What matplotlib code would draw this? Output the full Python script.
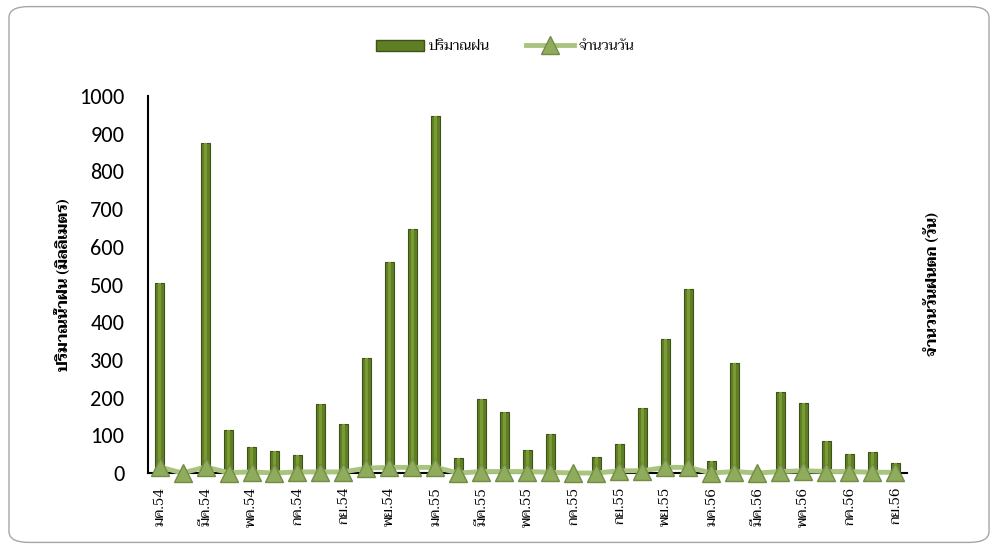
import matplotlib
matplotlib.use('Agg')
import matplotlib.pyplot as plt
from matplotlib import font_manager
from matplotlib.patches import FancyBboxPatch
from matplotlib.lines import Line2D
from matplotlib.patches import Patch
import numpy as np

# monthly rainfall (mm) and rainy days, Jan 2554 - Sep 2556
months = ['มค.54', 'กพ.54', 'มีค.54', 'เมย.54', 'พค.54', 'มิย.54', 'กค.54', 'สค.54',
          'กย.54', 'ตค.54', 'พย.54', 'ธค.54',
          'มค.55', 'กพ.55', 'มีค.55', 'เมย.55', 'พค.55', 'มิย.55', 'กค.55', 'สค.55',
          'กย.55', 'ตค.55', 'พย.55', 'ธค.55',
          'มค.56', 'กพ.56', 'มีค.56', 'เมย.56', 'พค.56', 'มิย.56', 'กค.56', 'สค.56',
          'กย.56']
rain = [505, 0, 875, 114, 69, 58, 48, 183, 130, 305, 560, 647,
        947, 40, 196, 162, 61, 103, 0, 42, 77, 172, 355, 488,
        32, 292, 0, 215, 186, 85, 50, 56, 27]
days = [16, 0, 16, 1, 3, 0, 3, 3, 3, 13, 15, 15,
        15, 0, 4, 4, 4, 2, 0, 0, 6, 6, 15, 15,
        0, 4, 0, 4, 6, 4, 4, 2, 2]

names = {f.name for f in font_manager.fontManager.ttflist}
thai = next((n for n in ['Taviraj', 'Trirong', 'Sarabun', 'Noto Serif Thai',
                         'Noto Sans Thai'] if n in names), 'DejaVu Sans')
num_font = next((n for n in ['Carlito', 'Liberation Sans'] if n in names), 'DejaVu Sans')
thai_fam = [thai, 'DejaVu Sans']

fig = plt.figure(figsize=(9.98, 5.49), dpi=100)
frame = FancyBboxPatch((0.009, 0.012), 0.982, 0.976, boxstyle='round,pad=0,rounding_size=0.02',
                       transform=fig.transFigure, facecolor='none', edgecolor='#a6a6a6',
                       linewidth=1.0, zorder=0)
fig.patches.append(frame)

ax = fig.add_axes([0.1483, 0.1384, 0.7605, 0.6867])
ax.set_facecolor('none')
x = np.arange(len(months))

ax.bar(x, rain, width=0.36, color='#5f7f25', edgecolor='#3d5214', linewidth=0.8, zorder=2)
ax.bar(x, rain, width=0.13, color='#7a9a35', linewidth=0, zorder=3)

ax2 = ax.twinx()
ax2.plot(x, days, color='#a9c47f', linewidth=3.5, marker='^', markersize=13,
         markerfacecolor='#8fab5c', markeredgecolor='#728c45', markeredgewidth=1,
         zorder=4, clip_on=False)
ax2.set_ylim(0, 1000)
ax2.set_yticks([])
for s in ax2.spines.values():
    s.set_visible(False)
ax2.set_ylabel('จำนวนวันฝนตก (วัน)', family=thai_fam, fontsize=11, fontweight='bold',
               rotation=90, labelpad=12)

ax.set_xlim(-0.5, len(months) - 0.5)
ax.set_ylim(0, 1000)
ax.set_yticks(range(0, 1001, 100))
ax.tick_params(axis='y', length=0, pad=17, labelsize=16)
for lab in ax.get_yticklabels():
    lab.set_family(num_font)
ax.set_xticks(x[::2])
ax.set_xticklabels(months[::2], rotation=90, family=thai_fam, fontsize=10.5)
ax.tick_params(axis='x', length=0, pad=10)

for side in ['top', 'right']:
    ax.spines[side].set_visible(False)
ax.spines['left'].set_linewidth(1.5)
ax.spines['bottom'].set_linewidth(1.5)

ax.set_ylabel('ปริมาณน้ำฝน (มิลลิเมตร)', family=thai_fam, fontsize=11, fontweight='bold',
              labelpad=6)

handles = [Patch(facecolor='#5f7f25', edgecolor='#3d5214'),
           Line2D([], [], color='#a9c47f', linewidth=3.5, marker='^', markersize=13,
                  markerfacecolor='#8fab5c', markeredgecolor='#728c45')]
fig.legend(handles, ['ปริมาณฝน', 'จำนวนวัน'], loc='center', bbox_to_anchor=(0.506, 0.915),
           ncol=2, frameon=False, prop={'family': thai_fam, 'size': 10},
           handlelength=3.5, handleheight=0.8, columnspacing=2.6, handletextpad=0.3)

fig.savefig('out.png')
